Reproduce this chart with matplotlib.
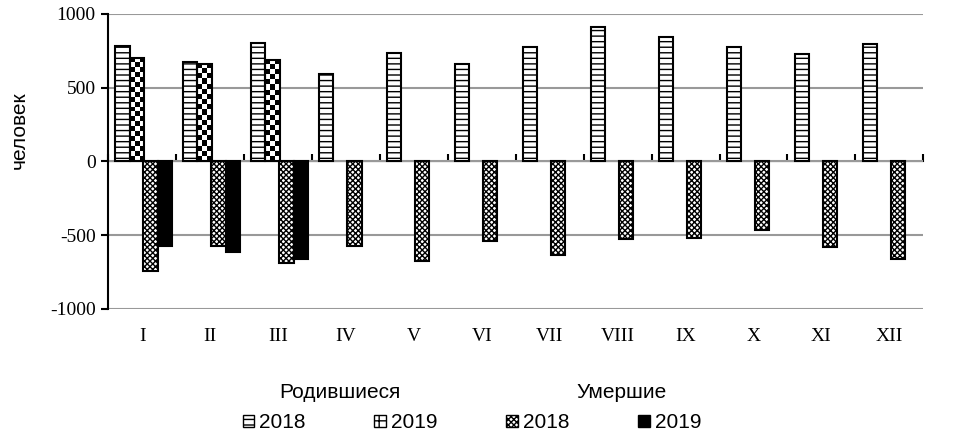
#!/usr/bin/env python
# -*- coding: utf-8 -*-

"""
Births and deaths by month, 2018-2019
"""

import numpy as np
import matplotlib
matplotlib.use("Agg")
import matplotlib.pyplot as plt
from matplotlib.patches import Patch

months = ['I', 'II', 'III', 'IV', 'V', 'VI', 'VII', 'VIII', 'IX', 'X', 'XI', 'XII']

# births (positive) and deaths (negative), persons
births_2018 = [779, 671, 804, 595, 734, 660, 777, 910, 840, 777, 728, 793]
births_2019 = [700, 660, 685]
deaths_2018 = [-741, -572, -687, -572, -674, -543, -635, -525, -518, -466, -583, -660]
deaths_2019 = [-574, -615, -662]

legend_labels = ['2018', '2019', '2018', '2019']

plt.rcParams['axes.unicode_minus'] = False
plt.rcParams['hatch.linewidth'] = 1.0


def main():
    fig = plt.figure(figsize=(9.74, 4.32), dpi=100)
    ax = fig.add_axes([0.111, 0.285, 0.837, 0.683])

    x = np.arange(len(months))
    width = 0.21
    offsets = [-0.29, -0.08, 0.125, 0.335]

    ax.bar(x + offsets[0], births_2018, width, color='white', edgecolor='black',
           hatch='---', linewidth=1.5, zorder=3)
    b19 = ax.bar(x[:len(births_2019)] + offsets[1], births_2019, width,
                 facecolor='none', edgecolor='black', linewidth=1.5, zorder=3)
    ax.bar(x + offsets[2], deaths_2018, width, color='white', edgecolor='black',
           hatch='xxxxxx', linewidth=1.5, zorder=3)
    ax.bar(x[:len(deaths_2019)] + offsets[3], deaths_2019, width,
           color='black', edgecolor='black', linewidth=1.5, zorder=3)

    # checkerboard fill for births 2019
    for rect in b19:
        x0, w, h = rect.get_x(), rect.get_width(), rect.get_height()
        ny = max(1, int(round(h / 34.0)))
        cells = np.indices((ny, 3)).sum(axis=0) % 2
        img = ax.imshow(cells, cmap='gray', extent=(x0, x0 + w, 0, h),
                        aspect='auto', interpolation='nearest', zorder=2)
        img.set_clip_path(rect)

    ax.set_xlim(-0.5, len(months) - 0.5)
    ax.set_ylim(-1000, 1000)
    ax.set_yticks([-1000, -500, 0, 500, 1000])
    ax.yaxis.grid(True, color='#999999', linewidth=1.5, zorder=0)
    ax.set_axisbelow(True)

    for side in ['top', 'right', 'bottom']:
        ax.spines[side].set_visible(False)
    ax.spines['left'].set_linewidth(1.5)
    ax.tick_params(axis='y', direction='out', length=5, width=1.5,
                   labelsize=14, pad=4)
    for lab in ax.get_yticklabels():
        lab.set_fontfamily('Liberation Serif')

    ax.set_xticks(x)
    ax.set_xticklabels(months, fontfamily='Liberation Serif', fontsize=14)
    ax.tick_params(axis='x', length=0, pad=14)

    # zero line with category ticks
    zero = ax.secondary_xaxis(0.5)
    zero.set_xticks(np.arange(len(months) + 1) - 0.5)
    zero.set_xticklabels([])
    zero.tick_params(axis='x', direction='out', length=5, width=1.5)
    zero.spines['bottom'].set_linewidth(1.5)

    fig.text(19 / 974, 1 - 130 / 432, 'человек', rotation=90, ha='center',
             va='center', fontfamily='Liberation Sans', fontsize=15)

    # legend
    fig.text(340 / 974, 1 - 393 / 432, 'Родившиеся', ha='center', va='center',
             fontfamily='Liberation Sans', fontsize=15)
    fig.text(622 / 974, 1 - 393 / 432, 'Умершие', ha='center', va='center',
             fontfamily='Liberation Sans', fontsize=15)
    handles = [
        Patch(facecolor='white', edgecolor='black', hatch='---'),
        Patch(facecolor='white', edgecolor='black', hatch='++'),
        Patch(facecolor='white', edgecolor='black', hatch='xxxxxx'),
        Patch(facecolor='black', edgecolor='black'),
    ]
    fig.legend(handles, legend_labels, ncol=4, loc='center',
               bbox_to_anchor=(472 / 974, 1 - 423 / 432), frameon=False,
               prop={'family': 'Liberation Sans', 'size': 15},
               handlelength=0.55, handleheight=0.55, handletextpad=0.25,
               columnspacing=3.3, borderpad=0)

    fig.savefig('out.png', dpi=100)
    return 0


if __name__ == '__main__':
    main()
